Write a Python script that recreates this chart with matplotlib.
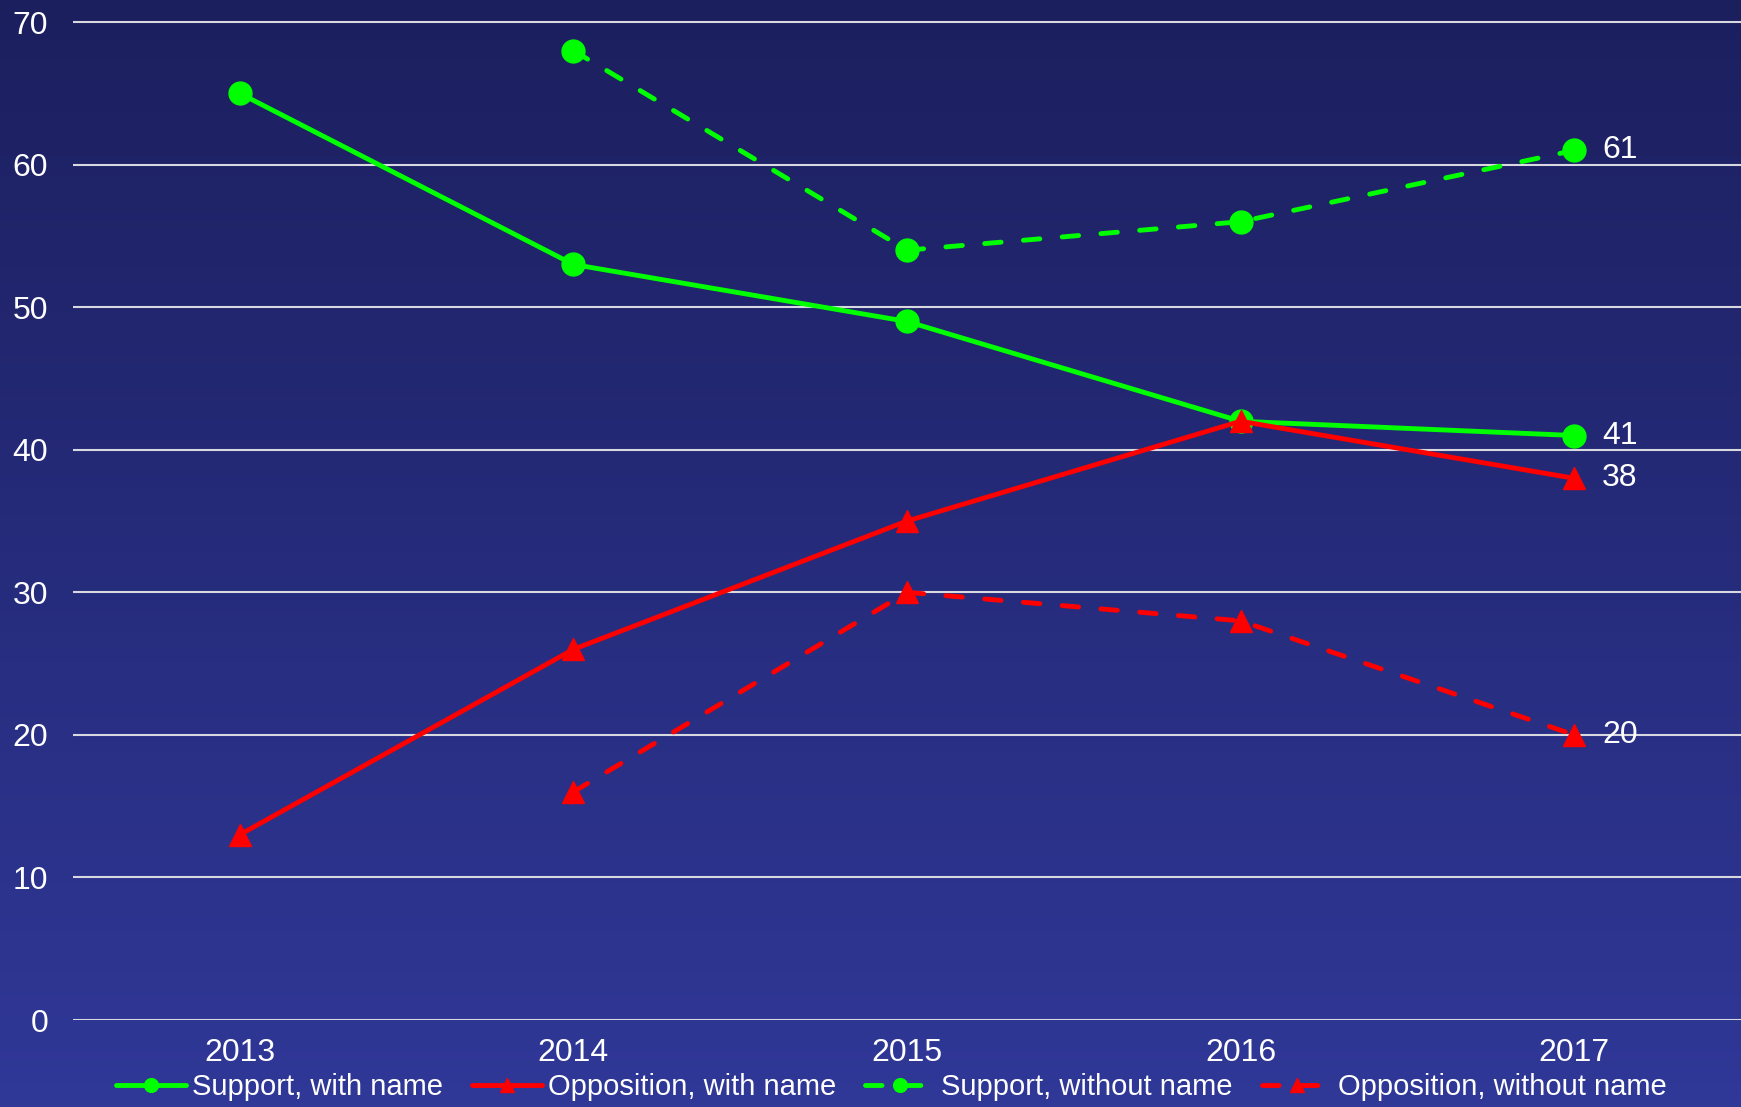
import numpy as np
import matplotlib
matplotlib.use("Agg")
import matplotlib.pyplot as plt
from matplotlib.colors import LinearSegmentedColormap

years = [2013, 2014, 2015, 2016, 2017]
support_with_name = [65, 53, 49, 42, 41]
opposition_with_name = [13, 26, 35, 42, 38]
support_without_name = [np.nan, 68, 54, 56, 61]
opposition_without_name = [np.nan, 16, 30, 28, 20]
series_labels = ["Support, with name", "Opposition, with name",
                 "Support, without name", "Opposition, without name"]
yticks = [0, 10, 20, 30, 40, 50, 60, 70]

plt.rcParams['font.family'] = ['Liberation Sans', 'DejaVu Sans']

W, H = 1741, 1107
fig = plt.figure(figsize=(W / 100, H / 100), dpi=100)

# background gradient
bg = fig.add_axes([0, 0, 1, 1], zorder=-10)
cmap = LinearSegmentedColormap.from_list("bg", ["#1c1f5e", "#303898"])
grad = np.linspace(0, 1, 256).reshape(-1, 1)
bg.imshow(grad, aspect='auto', cmap=cmap, extent=[0, 1, 0, 1], origin='upper')
bg.axis('off')

ax = fig.add_axes([73 / W, 87 / H, 1 - 73 / W, (1020 - 5) / H])
ax.set_facecolor('none')
ax.set_xlim(2012.5, 2017.5)
ax.set_ylim(0, 71.2)
for s in ax.spines.values():
    s.set_visible(False)
ax.set_yticks(yticks)
ax.set_xticks(years)
ax.tick_params(length=0, colors='white', labelsize=23)
ax.tick_params(axis='y', pad=18)
ax.tick_params(axis='x', pad=13)
ax.grid(axis='y', color='#d8d8e0', linewidth=1.5)
ax.set_axisbelow(True)

green = '#00ff00'
red = '#ff0000'
lw = 3.5
dash = (3.4, 4.6)
common = dict(lw=lw, zorder=3, solid_capstyle='round', dash_capstyle='round')
ax.plot(years, support_with_name, color=green, marker='o', ms=16.5,
        label=series_labels[0], **common)
ax.plot(years, opposition_with_name, color=red, marker='^', ms=16,
        label=series_labels[1], **common)
ax.plot(years, support_without_name, color=green, marker='o', ms=16.5,
        label=series_labels[2], linestyle=(0, dash), **common)
ax.plot(years, opposition_without_name, color=red, marker='^', ms=16,
        label=series_labels[3], linestyle=(0, dash), **common)

for series in [support_with_name, opposition_with_name,
               support_without_name, opposition_without_name]:
    ax.annotate(str(series[-1]), xy=(years[-1], series[-1]), xytext=(20, 0),
                textcoords='offset points', va='center', ha='left',
                color='white', fontsize=23)

leg = fig.legend(loc='center', bbox_to_anchor=(0.512, 1 - 1087 / H), ncol=4,
                 frameon=False, fontsize=21, handlelength=2.4,
                 handletextpad=0.2, columnspacing=1.0, labelcolor='white',
                 borderaxespad=0, borderpad=0, markerscale=0.6)

fig.savefig('out.png', dpi=100)
